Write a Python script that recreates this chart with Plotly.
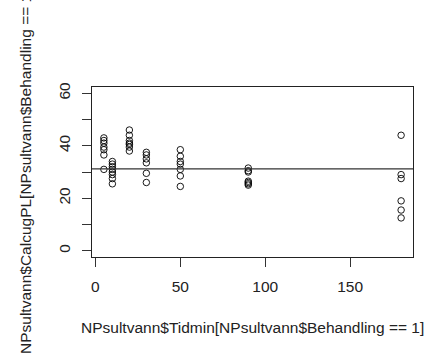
import plotly.graph_objects as go

# Data
tid_5 = [43, 42, 41, 39.5, 38.5, 36.5, 31]
tid_10 = [34, 33, 32, 31, 30, 29, 27.5, 25.5]
tid_20 = [46, 44, 42, 41, 40.5, 39.5, 38]
tid_30 = [37.5, 36.5, 35, 33.5, 29.5, 26]
tid_50 = [38.5, 36, 34, 33, 31, 28.5, 24.5]
tid_90 = [31.5, 30.5, 30, 26.5, 26, 25.5, 25]
tid_180 = [44, 29, 27.5, 19, 15.5, 12.5]
time_points = [5, 10, 20, 30, 50, 90, 180]
hline_value = 31.2

x_ticks = [0, 50, 100, 150]
y_ticks = [0, 10, 20, 30, 40, 50, 60]
y_ticktext = ["0", "", "20", "", "40", "", "60"]

groups = [tid_5, tid_10, tid_20, tid_30, tid_50, tid_90, tid_180]
xs, ys = [], []
for t, vals in zip(time_points, groups):
    xs += [t] * len(vals)
    ys += vals

fig = go.Figure()
fig.add_trace(go.Scatter(
    x=xs, y=ys, mode="markers",
    marker=dict(symbol="circle-open", size=6.5, color="black", line=dict(width=0.9, color="black")),
    showlegend=False, hoverinfo="skip",
))

fig.add_shape(type="line", xref="paper", x0=0, x1=1, yref="y", y0=hline_value, y1=hline_value,
              line=dict(color="#333333", width=1.2))

font = dict(family="Liberation Sans, Arial, sans-serif", size=15.5, color="#222222")

fig.update_layout(
    width=434, height=360,
    margin=dict(l=92, r=21, t=87, b=103),
    paper_bgcolor="white", plot_bgcolor="white",
    font=font,
    xaxis=dict(range=[-2, 187], tickvals=x_ticks, ticks="outside", ticklen=9, tickcolor="#333",
               tickwidth=1, showgrid=False, zeroline=False, showline=True, mirror=True,
               linecolor="#222", linewidth=1, tickfont=font, ticklabelstandoff=6),
    yaxis=dict(range=[-2.4, 62.4], tickvals=y_ticks, ticktext=y_ticktext, ticks="outside",
               ticklen=9, tickcolor="#333", tickwidth=1, tickangle=-90, showgrid=False,
               zeroline=False, showline=True, mirror=True, linecolor="#222", linewidth=1,
               tickfont=font, ticklabelstandoff=6),
    annotations=[
        dict(text="NPsultvann$Tidmin[NPsultvann$Behandling == 1]", xref="paper", yref="paper",
             x=0.5, y=0, xanchor="center", yanchor="middle", yshift=-70, showarrow=False, font=font),
        dict(text="NPsultvann$CalcugPL[NPsultvann$Behandling == 1]", xref="paper", yref="paper",
             x=0, y=0.5, xanchor="center", yanchor="middle", xshift=-67, textangle=-90,
             showarrow=False, font=font),
    ],
)

fig.write_html("out.html")
